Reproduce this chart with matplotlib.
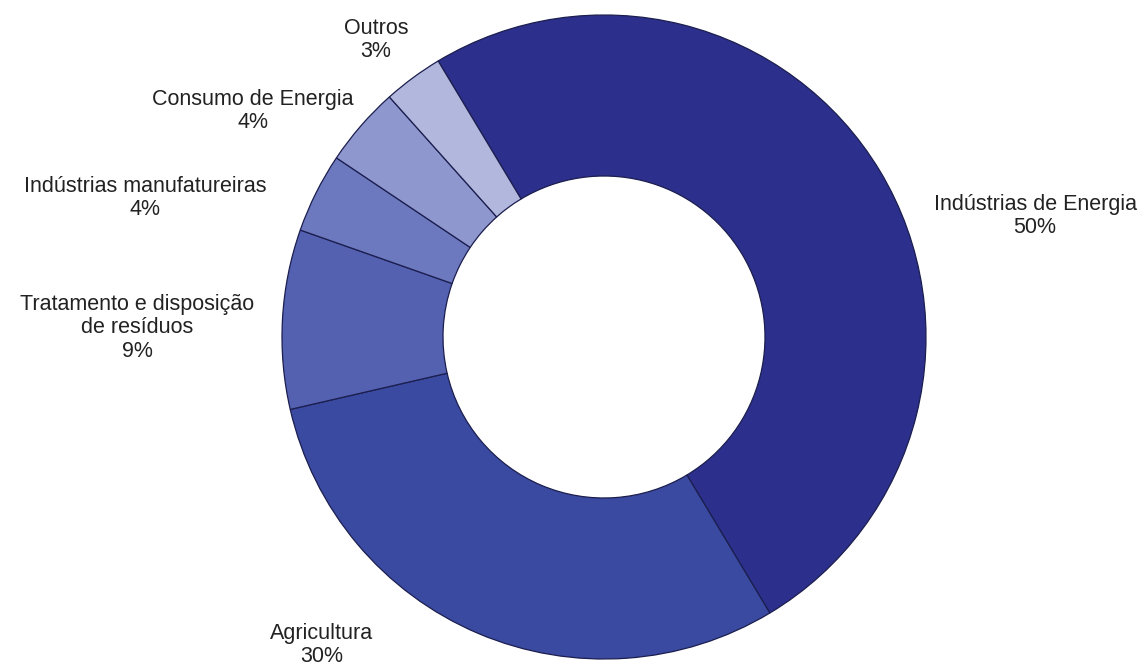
import matplotlib.pyplot as plt

# emissions by sector (%)
sectors = [
    "Indústrias de Energia",
    "Agricultura",
    "Tratamento e disposição\nde resíduos",
    "Indústrias manufatureiras",
    "Consumo de Energia",
    "Outros",
]
shares = [50, 30, 9, 4, 4, 3]

colors = ["#2c2f8b", "#3a4aa1", "#5361b0", "#6d79bf", "#8f97cf", "#b2b7de"]

# label anchor points, in figure pixels (x, y from top)
label_xy = [(1035, 216), (322, 645), (137, 328), (145, 198), (253, 111), (376, 40)]

W, H = 1144, 669
CX, CY, R = 604, 337, 322  # donut centre and outer radius in pixels

plt.rcParams["font.family"] = ["Liberation Sans", "DejaVu Sans"]

fig = plt.figure(figsize=(W / 100, H / 100), dpi=100)
ax = fig.add_axes([0, 0, 1, 1])

ax.pie(
    shares,
    colors=colors,
    startangle=121,
    counterclock=False,
    radius=1.0,
    wedgeprops=dict(width=0.5, edgecolor="#1b1e4e", linewidth=0.9),
)

# one data unit = R pixels, so the donut lands where we want it
ax.set_xlim(-CX / R, (W - CX) / R)
ax.set_ylim(-(H - CY) / R, CY / R)
ax.set_aspect("auto")
ax.axis("off")

for name, val, (px, py) in zip(sectors, shares, label_xy):
    fig.text(px / W, 1 - py / H, f"{name}\n{val}%",
             ha="center", va="center", multialignment="center",
             fontsize=15.5, color="#222222", linespacing=1.15)

fig.savefig("out.png", dpi=100, facecolor="white")
